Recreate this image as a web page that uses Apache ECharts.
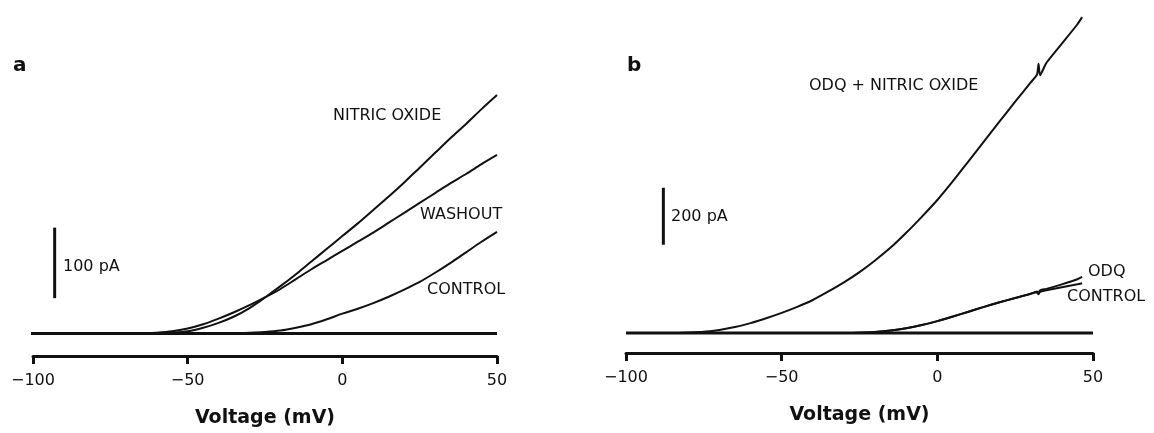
<!DOCTYPE html>
<html>
<head>
<meta charset="utf-8">
<script src="https://cdn.jsdelivr.net/npm/echarts@6/dist/echarts.min.js"></script>
<style>
  html, body { margin: 0; padding: 0; background: #fff; }
  #main { width: 1154px; height: 433px; }
</style>
</head>
<body>
<div id="main"></div>
<script>
// panel a : voltage steps (mV) and currents (pA)
const voltA = [-100, -95, -90, -85, -80, -75, -70, -65, -60, -55, -50, -45, -40, -35, -30, -25,
  -20, -15, -10, -5, 0, 5, 10, 15, 20, 25, 30, 35, 40, 45, 50];
const nitricOxideA = [0, 0, 0, 0, 0, 0, 0, 0, 0, 1, 3, 8, 15, 24, 36, 51,
  67, 84, 102, 120, 138, 156, 175, 194, 214, 235, 256, 277, 297, 318, 338];
const washoutA = [0, 0, 0, 0, 0, 0, 0, 0, 1, 3, 7, 13, 21, 30, 40, 51,
  63, 77, 91, 104, 117, 130, 143, 157, 171, 185, 199, 213, 226, 240, 253];
const controlA = [0, 0, 0, 0, 0, 0, 0, 0, 0, 0, 0, 0, 0, 0, 1, 2,
  4, 8, 13, 20, 28, 35, 43, 52, 62, 73, 86, 100, 115, 130, 144];

// panel b
const voltB = [-100, -95, -90, -85, -80, -75, -70, -65, -60, -55, -50, -45, -40, -35, -30, -25,
  -20, -15, -10, -5, 0, 5, 10, 15, 20, 25, 30, 32, 32.5, 33, 35, 40, 45, 46.5];
const odqNitricOxideB = [0, 0, 0, 0, 2, 5, 11, 21, 35, 52, 71, 92, 116, 146, 178, 214,
  255, 300, 352, 408, 467, 533, 603, 673, 743, 812, 880, 907, 945, 905, 948, 1016, 1084, 1109];
const odqB = [0, 0, 0, 0, 0, 0, 0, 0, 0, 0, 0, 0, 0, 0, 0, 1,
  4, 9, 17, 28, 42, 58, 75, 92, 108, 123, 138, 146, 141, 150, 155, 171, 189, 197];
const controlB = [0, 0, 0, 0, 0, 0, 0, 0, 0, 0, 0, 0, 0, 0, 0, 1,
  4, 9, 17, 28, 42, 58, 75, 92, 108, 123, 138, 143, 136, 145, 150, 161, 171, 175];

// zero-current lines and scale bars
const zeroA = [-101, 50];
const zeroB = [-100, 50];
const scaleBarA = { volt: -93, from: 50, to: 150 };   // 100 pA
const scaleBarB = { volt: -88, from: 310, to: 510 };  // 200 pA
const xTicks = [-100, -50, 0, 50];

const ink = '#111';
const font = 'DejaVu Sans';

function pairs(xs, ys) {
  return xs.map((x, i) => [x, ys[i]]);
}

function trace(name, idx, data, width, smooth) {
  return {
    name: name,
    type: 'line',
    xAxisIndex: idx,
    yAxisIndex: idx,
    data: data,
    showSymbol: false,
    silent: true,
    clip: false,
    smooth: smooth || false,
    lineStyle: { color: ink, width: width || 2 }
  };
}

function xAxisFor(idx) {
  return {
    type: 'value',
    gridIndex: idx,
    min: xTicks[0],
    max: xTicks[xTicks.length - 1],
    interval: 50,
    splitLine: { show: false },
    axisLine: { show: true, onZero: false, lineStyle: { color: ink, width: 3 } },
    axisTick: { show: true, length: 8, lineStyle: { color: ink, width: 3 } },
    axisLabel: {
      color: ink, fontSize: 16, fontFamily: font, margin: 17,
      formatter: v => String(v).replace('-', '\u2212')
    },
    name: 'Voltage (mV)',
    nameLocation: 'middle',
    nameGap: 53,
    nameTextStyle: { color: ink, fontSize: 19, fontWeight: 'bold', fontFamily: font }
  };
}

function txt(left, top, text, size, bold) {
  return {
    type: 'text',
    left: left,
    top: top,
    style: {
      text: text,
      fill: ink,
      fontSize: size,
      fontFamily: font,
      fontWeight: bold ? 'bold' : 'normal'
    }
  };
}

const chart = echarts.init(document.getElementById('main'));
chart.setOption({
  backgroundColor: '#fff',
  animation: false,
  grid: [
    { left: 33, width: 464, top: 16, height: 342 },
    { left: 626, width: 467, top: 14, height: 339 }
  ],
  xAxis: [xAxisFor(0), xAxisFor(1)],
  yAxis: [
    { type: 'value', gridIndex: 0, min: -32, max: 450, show: false, splitLine: { show: false } },
    { type: 'value', gridIndex: 1, min: -70, max: 1120, show: false, splitLine: { show: false } }
  ],
  series: [
    trace('zero a', 0, zeroA.map(v => [v, 0]), 3),
    trace('NITRIC OXIDE', 0, pairs(voltA, nitricOxideA), 2, 0.3),
    trace('WASHOUT', 0, pairs(voltA, washoutA), 2, 0.3),
    trace('CONTROL', 0, pairs(voltA, controlA), 2, 0.3),
    trace('scale a', 0, [[scaleBarA.volt, scaleBarA.from], [scaleBarA.volt, scaleBarA.to]], 3),

    trace('zero b', 1, zeroB.map(v => [v, 0]), 3),
    trace('ODQ + NITRIC OXIDE', 1, pairs(voltB, odqNitricOxideB), 2, 0.2),
    trace('ODQ', 1, pairs(voltB, odqB), 2, 0.2),
    trace('CONTROL b', 1, pairs(voltB, controlB), 2, 0.2),
    trace('scale b', 1, [[scaleBarB.volt, scaleBarB.from], [scaleBarB.volt, scaleBarB.to]], 3)
  ],
  graphic: [
    txt(13, 56, 'a', 20, true),
    txt(333, 108, 'NITRIC OXIDE', 16),
    txt(420, 207, 'WASHOUT', 16),
    txt(427, 282, 'CONTROL', 16),
    txt(63, 259, '100 pA', 16),

    txt(627, 56, 'b', 20, true),
    txt(809, 78, 'ODQ + NITRIC OXIDE', 16),
    txt(671, 209, '200 pA', 16),
    txt(1088, 264, 'ODQ', 16),
    txt(1067, 289, 'CONTROL', 16)
  ]
});
</script>
</body>
</html>
